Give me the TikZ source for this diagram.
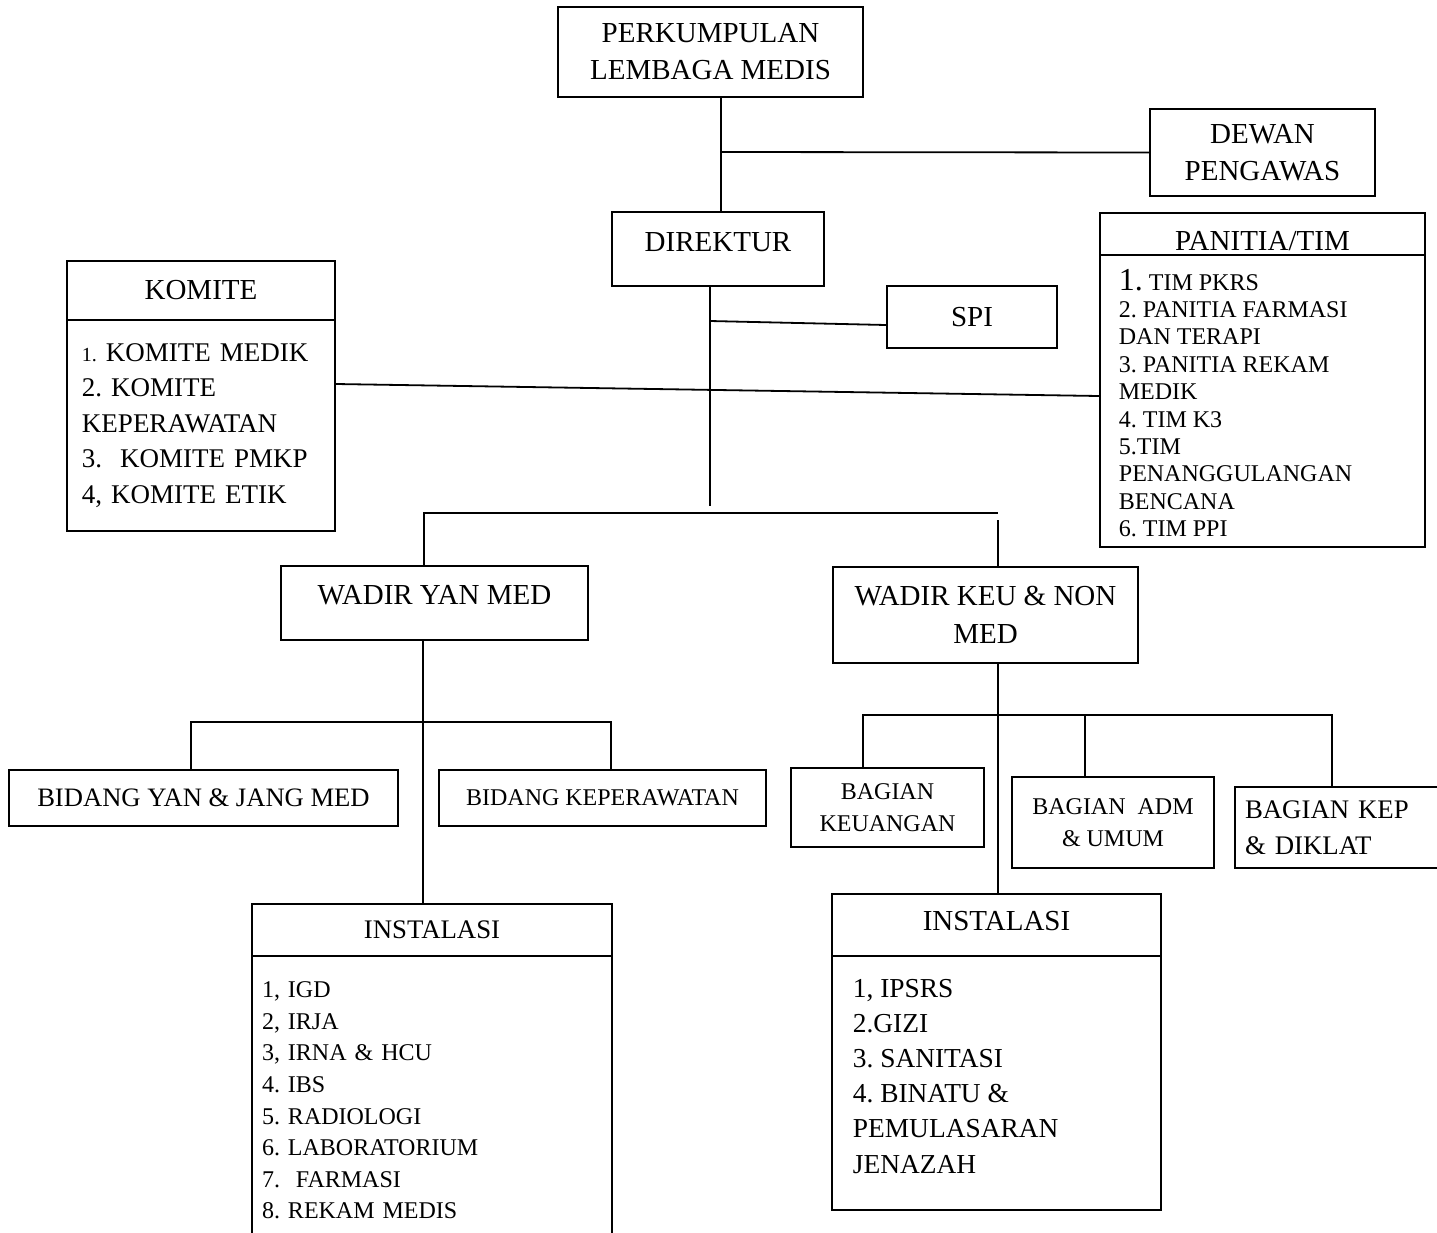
\documentclass[tikz,border=0pt]{standalone}
\usepackage{fontspec}
\setmainfont{Liberation Serif}
\frenchspacing

\begin{document}
\begin{tikzpicture}[x=0.5pt,y=-0.5pt,line width=0.9pt,
  box node/.style={draw,rectangle,inner sep=0pt,align=center,line width=1pt,
    font=\fontsize{14.5}{18.5}\selectfont},
  small node/.style={box node,font=\fontsize{12}{16}\selectfont},
  list node/.style={draw,rectangle,inner ysep=0pt,align=left,line width=1pt},
  list text/.style={anchor=north west,align=left,inner sep=0pt}]

  \useasboundingbox (0,0) rectangle (1437,1233);

  \node[box node,minimum width=152.5pt,minimum height=45pt] (perk) at (710.5,52) {PERKUMPULAN\\LEMBAGA MEDIS};
  \node[box node,minimum width=112.5pt,minimum height=43.5pt] (dewan) at (1262.5,152.5) {DEWAN\\PENGAWAS};
  \node[box node,minimum width=106pt,minimum height=37pt,text depth=7pt] (dir) at (718,249) {DIREKTUR};
  \node[box node,minimum width=85pt,minimum height=31pt] (spi) at (972,317) {SPI};

  % komite
  \node[box node,minimum width=134pt,minimum height=29.5pt] (komhead) at (201,290.5) {KOMITE};
  \node[list node,minimum height=105.5pt,inner xsep=7.5pt,text width=119pt,
    font=\fontsize{13.5}{17.7}\selectfont] (komlist) at (201,425.5)
    {{\fontsize{10}{10}\selectfont 1.} KOMITE MEDIK\\2. KOMITE\\KEPERAWATAN\\3.\ \ KOMITE PMKP\\4, KOMITE ETIK};

  % panitia
  \node[box node,minimum width=162.5pt,minimum height=21pt,text height=16pt,text depth=0pt] (panhead) at (1262.5,234) {PANITIA/TIM};
  \node[list node,minimum width=162.5pt,minimum height=146pt] (panlist) at (1262.5,401) {};
  \begin{scope}
    \clip (1100,255) rectangle (1425,538);
    \node[list text,font=\fontsize{12}{13.7}\selectfont] (pantext) at (1118,268)
      {{\fontsize{16}{16}\selectfont 1.} TIM PKRS\\2. PANITIA FARMASI\\DAN TERAPI\\3. PANITIA REKAM\\MEDIK\\4. TIM K3\\5.TIM\\PENANGGULANGAN\\BENCANA\\6. TIM PPI};
  \end{scope}

  % wakil direktur
  \node[box node,minimum width=153.5pt,minimum height=37pt,text depth=8pt] (wyan) at (434.5,603) {WADIR YAN MED};
  \node[box node,minimum width=152.5pt,minimum height=48pt,font=\fontsize{14.5}{19}\selectfont] (wkeu) at (985.5,615) {WADIR KEU \& NON\\MED};

  % bidang
  \node[box node,minimum width=194.5pt,minimum height=28pt,font=\fontsize{13.3}{16}\selectfont] (bidyan) at (203.5,798) {BIDANG YAN \& JANG MED};
  \node[small node,minimum width=163.5pt,minimum height=28pt] (bidkep) at (602.5,798) {BIDANG KEPERAWATAN};

  % bagian
  \node[small node,minimum width=96.5pt,minimum height=39.5pt] (bagkeu) at (887.5,807.5) {BAGIAN\\KEUANGAN};
  \node[small node,minimum width=101pt,minimum height=45.5pt] (bagadm) at (1113,822.5) {BAGIAN\ \ ADM\\\& UMUM};
  \node[box node,minimum height=40.5pt,inner xsep=5pt,text width=95pt,align=left,
    font=\fontsize{13.4}{18}\selectfont] (bagkep) at (1340,827.5) {BAGIAN KEP\\\& DIKLAT};

  % instalasi
  \node[box node,minimum width=180pt,minimum height=26pt,font=\fontsize{13.4}{16}\selectfont] (insyan) at (432,930) {INSTALASI};
  \node[list node,minimum height=144.5pt,inner xsep=5pt,text width=170pt,
    font=\fontsize{12}{15.8}\selectfont] (insyanlist) at (432,1100.5)
    {1, IGD\\2, IRJA\\3, IRNA \& HCU\\4. IBS\\5. RADIOLOGI\\6. LABORATORIUM\\7.\ \ FARMASI\\8. REKAM MEDIS};
  \node[box node,minimum width=164.5pt,minimum height=31pt,text depth=4pt] (inskeu) at (996.5,925) {INSTALASI};
  \node[list node,minimum width=164.5pt,minimum height=127pt] (inskeulist) at (996.5,1083) {};
  \node[list text,font=\fontsize{13.7}{17.6}\selectfont] (inskeutext) at (852,978)
    {1, IPSRS\\2.GIZI\\3. SANITASI\\4. BINATU \&\\PEMULASARAN\\JENAZAH};

  \coordinate (j1) at (721,152);
  \coordinate (d1) at (710,506);
  \coordinate (s1) at (710,321);
  \draw (perk.south -| j1) -- (dir.north -| j1);
  \draw (j1) -- (dewan.west);
  \draw (dir.south -| d1) -- (d1);
  \draw (s1) -- ([yshift=-4pt]spi.west);
  \draw ([yshift=20.75pt]komlist.east) -- ([yshift=2.5pt]panlist.west);

  \coordinate (b1) at (424,513);
  \coordinate (b2) at (998,513);
  \coordinate (b3) at (998,520);
  \draw (wyan.north -| b1) -- (b1) -- (b2);
  \draw (b3) -- (wkeu.north -| b3);

  \coordinate (c1) at (191,722);
  \coordinate (c2) at (611,722);
  \coordinate (c3) at (423,722);
  \draw (bidyan.north -| c1) -- (c1) -- (c2) -- (bidkep.north -| c2);
  \draw (wyan.south -| c3) -- (insyan.north -| c3);

  \coordinate (e1) at (863,715);
  \coordinate (e2) at (1085,715);
  \coordinate (e3) at (1332,715);
  \coordinate (e4) at (998,715);
  \draw (bagkeu.north -| e1) -- (e1) -- (e3) -- (bagkep.north -| e3);
  \draw (e2) -- (bagadm.north -| e2);
  \draw (wkeu.south -| e4) -- (inskeu.north -| e4);
\end{tikzpicture}
\end{document}
